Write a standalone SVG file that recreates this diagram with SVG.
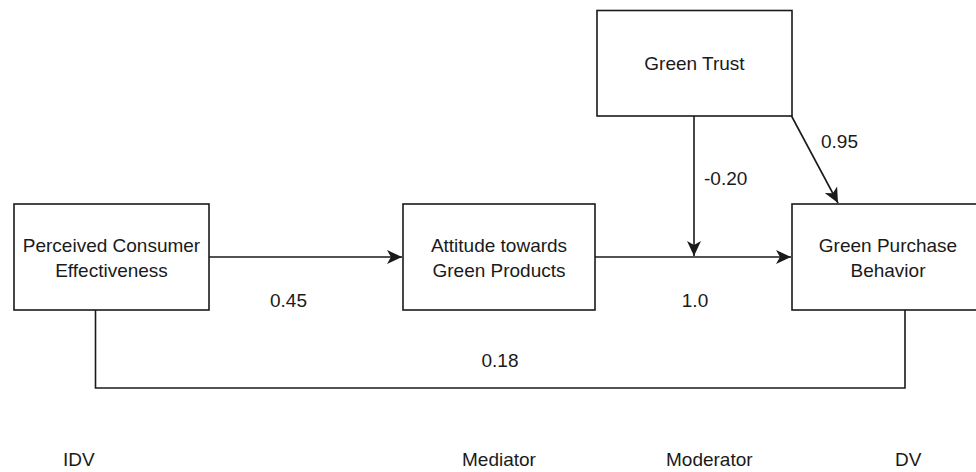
<svg xmlns="http://www.w3.org/2000/svg" width="976" height="472" viewBox="0 0 976 472">
  <style>
    .box { fill: #ffffff; stroke: #1a1a1a; stroke-width: 1.6; }
    .t { font-family: "Liberation Sans", Arial, sans-serif; font-size: 19px; fill: #1a1a1a; text-anchor: middle; }
    .e { fill: none; stroke: #1a1a1a; stroke-width: 1.6; }
  </style>
  <defs>
    <marker id="arr" markerUnits="userSpaceOnUse" viewBox="-17 -9 18 18" refX="0" refY="0" markerWidth="18" markerHeight="18" orient="auto">
      <path d="M0,0 L-15,-7 L-11,0 L-15,7 Z" fill="#1a1a1a" stroke="none"/>
    </marker>
  </defs>
  <rect width="976" height="472" fill="#ffffff"/>

  <g id="connectors">
    <line class="e" x1="209" y1="257" x2="402" y2="257" marker-end="url(#arr)"/>
    <line class="e" x1="595" y1="257" x2="791" y2="257" marker-end="url(#arr)"/>
    <line class="e" x1="694" y1="116" x2="694" y2="256" marker-end="url(#arr)"/>
    <line class="e" x1="791.5" y1="116" x2="838" y2="203" marker-end="url(#arr)"/>
    <polyline class="e" points="95.5,310 95.5,388 905,388 905,310"/>
  </g>

  <g id="pce">
    <rect class="box" x="14" y="204" width="195" height="106"/>
    <text class="t" x="111.5" y="252">Perceived Consumer</text>
    <text class="t" x="111.5" y="277">Effectiveness</text>
  </g>
  <g id="atgp">
    <rect class="box" x="403" y="204" width="192" height="106"/>
    <text class="t" x="499" y="252">Attitude towards</text>
    <text class="t" x="499" y="277">Green Products</text>
  </g>
  <g id="gpb">
    <rect class="box" x="792" y="204" width="192" height="106"/>
    <text class="t" x="888" y="252">Green Purchase</text>
    <text class="t" x="888" y="277">Behavior</text>
  </g>
  <g id="gt">
    <rect class="box" x="597" y="10.5" width="195" height="105.5"/>
    <text class="t" x="694.5" y="70">Green Trust</text>
  </g>

  <g id="labels">
    <text class="t" x="288.5" y="307">0.45</text>
    <text class="t" x="695" y="307">1.0</text>
    <text class="t" x="704" y="185" style="text-anchor:start">-0.20</text>
    <text class="t" x="821" y="148" style="text-anchor:start">0.95</text>
    <text class="t" x="500" y="367">0.18</text>
    <text class="t" x="63" y="466" style="text-anchor:start">IDV</text>
    <text class="t" x="462" y="466" style="text-anchor:start">Mediator</text>
    <text class="t" x="666" y="466" style="text-anchor:start">Moderator</text>
    <text class="t" x="895" y="466" style="text-anchor:start">DV</text>
  </g>
</svg>
